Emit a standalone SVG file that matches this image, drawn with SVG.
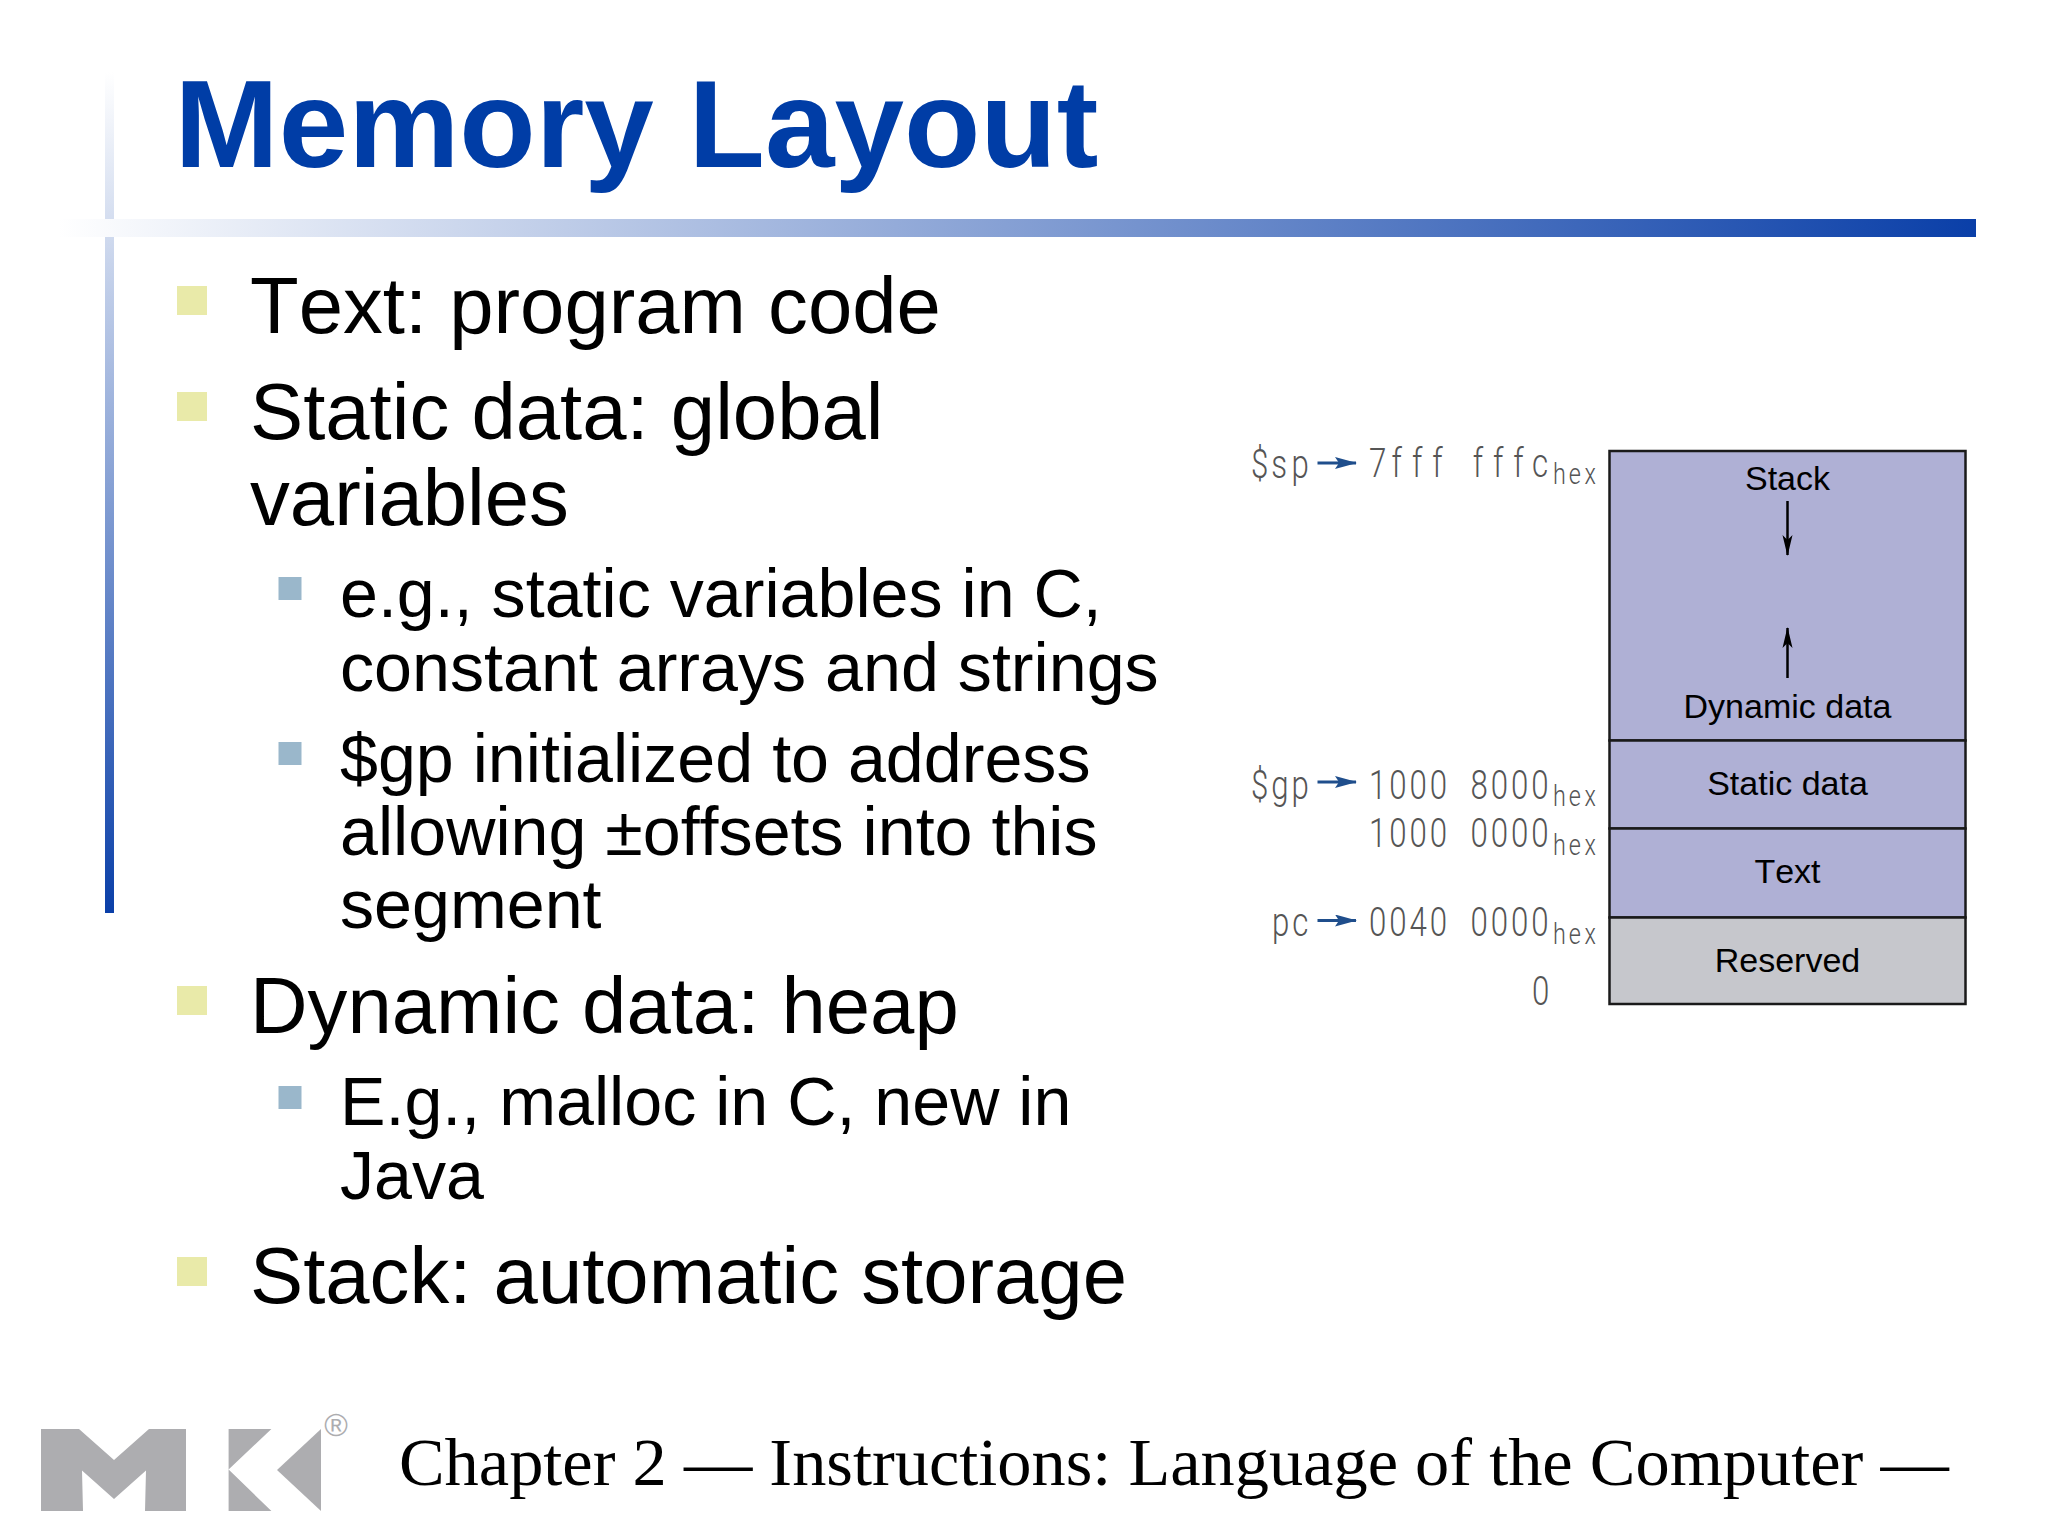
<svg xmlns="http://www.w3.org/2000/svg" width="2048" height="1536" viewBox="0 0 2048 1536">
<style>
.l1{font:79.7px "Liberation Sans",Arial,sans-serif;font-kerning:none;fill:#000}
.l2{font:68.2px "Liberation Sans",Arial,sans-serif;font-kerning:none;fill:#000}
.t{font:bold 125px "Liberation Sans",Arial,sans-serif;fill:#003da6}
.f{font:68.4px "Liberation Serif","Times New Roman",serif;fill:#000}
.seg{font:34px "Liberation Sans",Arial,sans-serif;font-kerning:none;fill:#000;text-anchor:middle}
.m{font:300 40px Roboto,sans-serif;fill:#555}
.h{font:300 30px Roboto,sans-serif;fill:#555}
.b1{fill:#e9eaa9}
.b2{fill:#9ab7cb}
.box{stroke:#1a1a1a;stroke-width:2.5}
.mem{fill:#afb0d5}
.res{fill:#c6c7cc}
.logo{fill:#adadb0}
</style>
<defs>
<linearGradient id="gh" x1="0" x2="1" y1="0" y2="0"><stop offset="0" stop-color="#fff"/><stop offset="1" stop-color="#0a3fa8"/></linearGradient>
<linearGradient id="gv" x1="0" x2="0" y1="0" y2="1"><stop offset="0" stop-color="#fff"/><stop offset="1" stop-color="#0a3fa8"/></linearGradient>
<marker id="ab" markerWidth="21" markerHeight="11" refX="20" refY="5.5" orient="auto" markerUnits="userSpaceOnUse"><path d="M0 0.5L21 5.5L0 10.5L5 5.5z" fill="#000"/></marker>
<marker id="ablue" markerWidth="22" markerHeight="12" refX="21" refY="6" orient="auto" markerUnits="userSpaceOnUse"><path d="M0 0L22 6L0 12L4 6z" fill="#1f4e8c"/></marker>
</defs>
<rect width="2048" height="1536" fill="#fff"/>
<g id="decor">
<rect x="105" y="72" width="9" height="841" fill="url(#gv)"/>
<rect x="58" y="219" width="1918" height="18" fill="url(#gh)"/>
</g>
<g id="title"><text class="t" x="174.5" y="167">Memory Layout</text></g>
<g id="bullets">
<rect class="b1" x="177" y="286" width="30" height="29"/>
<text class="l1" x="250" y="333">Text: program code</text>
<rect class="b1" x="177" y="392" width="30" height="29"/>
<text class="l1" x="250" y="439">Static data: global</text>
<text class="l1" x="250" y="525">variables</text>
<rect class="b2" x="278.5" y="577" width="23" height="23"/>
<text class="l2" x="340" y="617">e.g., static variables in C,</text>
<text class="l2" x="340" y="691">constant arrays and strings</text>
<rect class="b2" x="278.5" y="742" width="23" height="23"/>
<text class="l2" x="340" y="782">$gp initialized to address</text>
<text class="l2" x="340" y="855">allowing ±offsets into this</text>
<text class="l2" x="340" y="928">segment</text>
<rect class="b1" x="177" y="986" width="30" height="29"/>
<text class="l1" x="250" y="1033">Dynamic data: heap</text>
<rect class="b2" x="278.5" y="1086" width="23" height="23"/>
<text class="l2" x="340" y="1125">E.g., malloc in C, new in</text>
<text class="l2" x="340" y="1199">Java</text>
<rect class="b1" x="177" y="1257" width="30" height="29"/>
<text class="l1" x="250" y="1303">Stack: automatic storage</text>
</g>
<g id="seg-stack"><rect class="box mem" x="1609.5" y="451" width="356" height="289.5"/>
<text class="seg" x="1787.5" y="490">Stack</text><text class="seg" x="1787.5" y="718">Dynamic data</text></g>
<g id="seg-static"><rect class="box mem" x="1609.5" y="740.5" width="356" height="88"/><text class="seg" x="1787.5" y="795">Static data</text></g>
<g id="seg-text"><rect class="box mem" x="1609.5" y="828.5" width="356" height="89"/><text class="seg" x="1787.5" y="883">Text</text></g>
<g id="seg-reserved"><rect class="box res" x="1609.5" y="917.5" width="356" height="86.5"/><text class="seg" x="1787.5" y="972">Reserved</text></g>
<g id="connectors" fill="none">
<path d="M1787.5 501V555" stroke="#000" stroke-width="2.5" marker-end="url(#ab)"/>
<path d="M1787.5 678V628" stroke="#000" stroke-width="2.5" marker-end="url(#ab)"/>
<path d="M1317.5 463H1356" stroke="#1f4e8c" stroke-width="3" marker-end="url(#ablue)"/>
<path d="M1317.5 782H1356" stroke="#1f4e8c" stroke-width="3" marker-end="url(#ablue)"/>
<path d="M1317.5 920.500H1356" stroke="#1f4e8c" stroke-width="3" marker-end="url(#ablue)"/>
</g>
<g id="addresses">
<text class="m" transform="translate(1251 478) scale(.78 1)" x="0 26 52">$sp</text>
<text class="m" transform="translate(1369 477) scale(.78 1)" x="0 29 55 81 108 133 159 185 209">7fff fffc</text>
<text class="h" transform="translate(1553 484) scale(.78 1)" x="0 20.2 40.4">hex</text>
<text class="m" transform="translate(1251 799) scale(.78 1)" x="0 26 52">$gp</text>
<text class="m" transform="translate(1369 799) scale(.78 1)" x="0 26 52 78 104 130 156 182 208">1000 8000</text>
<text class="h" transform="translate(1553 806) scale(.78 1)" x="0 20.2 40.4">hex</text>
<text class="m" transform="translate(1369 847) scale(.78 1)" x="0 26 52 78 104 130 156 182 208">1000 0000</text>
<text class="h" transform="translate(1553 855) scale(.78 1)" x="0 20.2 40.4">hex</text>
<text class="m" transform="translate(1272 936) scale(.78 1)" x="0 26">pc</text>
<text class="m" transform="translate(1369 936) scale(.78 1)" x="0 26 52 78 104 130 156 182 208">0040 0000</text>
<text class="h" transform="translate(1553 944) scale(.78 1)" x="0 20.2 40.4">hex</text>
<text class="m" transform="translate(1532 1005) scale(.78 1)">0</text>
</g>
<g id="logo">
<path class="logo" d="M41 1429H79L114 1460L149 1429H186V1511H145L146 1470.500L114 1499L82 1470.500L83 1511H41Z"/>
<path class="logo" d="M228.6 1429H271.4L228.6 1469.500L271.4 1511H228.600Z"/>
<path class="logo" d="M321 1429L277 1470L321 1511Z"/>
<text x="336" y="1436" font-family="Liberation Sans, sans-serif" font-size="32" text-anchor="middle" fill="#adadb0">®</text>
</g>
<g id="footer"><text class="f" x="399" y="1485">Chapter 2 — Instructions: Language of the Computer —</text></g>
</svg>
